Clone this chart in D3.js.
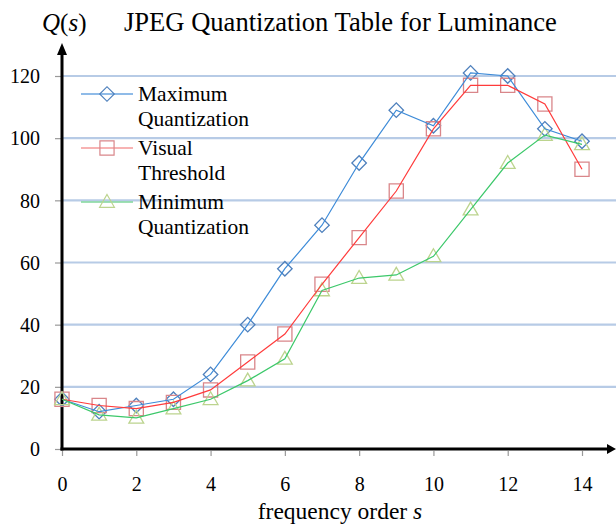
<!DOCTYPE html>
<html>
<head>
<meta charset="utf-8">
<script src="https://cdn.jsdelivr.net/npm/d3@7"></script>
<style>
  body { margin: 0; background: #fff; }
</style>
</head>
<body>
<script>
// data
const freqOrder = [0, 1, 2, 3, 4, 5, 6, 7, 8, 9, 10, 11, 12, 13, 14];
const maxQuant = [16, 12, 14, 16, 24, 40, 58, 72, 92, 109, 104, 121, 120, 103, 99];
const visualThreshold = [16, 14, 13, 15, 19, 28, 37, 53, 68, 83, 103, 117, 117, 111, 90];
const minQuant = [16, 11, 10, 13, 16, 22, 29, 51, 55, 56, 62, 77, 92, 101, 98];
const xTicks = [0, 2, 4, 6, 8, 10, 12, 14];
const yTicks = [0, 20, 40, 60, 80, 100, 120];
const seriesNames = [['Maximum', 'Quantization'], ['Visual', 'Threshold'], ['Minimum', 'Quantization']];

const fontFamily = '"Liberation Serif", Tinos';

const series = [
  { name: seriesNames[0], values: maxQuant, line: '#3d8bd8', legendLine: '#6aa5e0', marker: '#4f81bd', shape: 'diamond' },
  { name: seriesNames[1], values: visualThreshold, line: '#ff3b3b', legendLine: '#f59a9a', marker: '#d9868a', shape: 'square' },
  { name: seriesNames[2], values: minQuant, line: '#3cc86a', legendLine: '#7fd69b', marker: '#bcd48e', shape: 'triangle' }
];

const w = 616, h = 525;
const svg = d3.select('body').append('svg')
  .attr('width', w).attr('height', h)
  .style('font-family', fontFamily);

const x = d3.scaleLinear().domain([0, 14]).range([62, 582]);
const y = d3.scaleLinear().domain([0, 120]).range([449, 76]);

// grid lines
svg.append('g').selectAll('line')
  .data(yTicks.filter(d => d > 0))
  .enter().append('line')
  .attr('x1', x(0)).attr('x2', w)
  .attr('y1', d => y(d)).attr('y2', d => y(d))
  .attr('stroke', '#b7cbe6').attr('stroke-width', 2.2);

// y axis ticks and labels
const yAxis = d3.axisLeft(y).tickValues(yTicks).tickSize(7).tickPadding(15);
const yg = svg.append('g').attr('transform', 'translate(' + x(0) + ',0)').call(yAxis);
yg.attr('font-family', null).attr('font-size', null);
yg.select('.domain').remove();
yg.selectAll('.tick line').attr('stroke', '#999').attr('stroke-width', 1.2);
yg.selectAll('.tick text')
  .style('font-family', fontFamily)
  .style('font-size', '20px')
  .attr('dy', '0.34em');

// x axis ticks and labels
const xAxis = d3.axisBottom(x).tickValues(xTicks).tickSize(7).tickPadding(21);
const xg = svg.append('g').attr('transform', 'translate(0,' + y(0) + ')').call(xAxis);
xg.attr('font-family', null).attr('font-size', null);
xg.select('.domain').remove();
xg.selectAll('.tick line').attr('stroke', '#999').attr('stroke-width', 1.2).attr('y1', 2);
xg.selectAll('.tick text')
  .style('font-family', fontFamily)
  .style('font-size', '20px');

// axis lines with arrow heads
svg.append('line')
  .attr('x1', x(0) - 1.5).attr('x2', 608)
  .attr('y1', y(0)).attr('y2', y(0))
  .attr('stroke', '#000').attr('stroke-width', 3);
svg.append('path')
  .attr('d', d3.line()([[607, y(0) - 5], [616, y(0)], [607, y(0) + 5]]) + 'Z')
  .attr('fill', '#000');
svg.append('line')
  .attr('x1', x(0)).attr('x2', x(0))
  .attr('y1', y(0) + 1.5).attr('y2', 54)
  .attr('stroke', '#000').attr('stroke-width', 3);
svg.append('path')
  .attr('d', d3.line()([[x(0) - 5, 55], [x(0), 43], [x(0) + 5, 55]]) + 'Z')
  .attr('fill', '#000');

// marker shapes
function markerPath(shape) {
  if (shape === 'diamond') return d3.symbol().type(d3.symbolSquare).size(105)();
  if (shape === 'square') return d3.symbol().type(d3.symbolSquare).size(200)();
  return d3.symbol().type(d3.symbolTriangle).size(95)();
}
function markerTransform(shape, px, py) {
  if (shape === 'diamond') return 'translate(' + px + ',' + py + ') rotate(45)';
  if (shape === 'triangle') return 'translate(' + px + ',' + (py + 1) + ')';
  return 'translate(' + px + ',' + py + ')';
}

const line = d3.line()
  .x((d, i) => x(freqOrder[i]))
  .y(d => y(d));

// markers first, lines on top
series.forEach(s => {
  svg.append('g').selectAll('path')
    .data(s.values)
    .enter().append('path')
    .attr('d', markerPath(s.shape))
    .attr('transform', (d, i) => markerTransform(s.shape, x(freqOrder[i]), y(d)))
    .attr('fill', 'none')
    .attr('stroke', s.marker)
    .attr('stroke-width', 1.3);
});
series.forEach(s => {
  svg.append('path')
    .datum(s.values)
    .attr('d', line)
    .attr('fill', 'none')
    .attr('stroke', s.line)
    .attr('stroke-width', 1.2);
});

// legend
const legend = svg.append('g');
const legendRows = [94, 148, 202];
series.forEach((s, i) => {
  const ly = legendRows[i];
  legend.append('line')
    .attr('x1', 81).attr('x2', 133)
    .attr('y1', ly).attr('y2', ly)
    .attr('stroke', s.legendLine).attr('stroke-width', 1.5);
  legend.append('path')
    .attr('d', markerPath(s.shape))
    .attr('transform', markerTransform(s.shape, 107, ly))
    .attr('fill', 'none')
    .attr('stroke', s.marker)
    .attr('stroke-width', 1.2);
  s.name.forEach((t, j) => {
    legend.append('text')
      .attr('x', 138)
      .attr('y', ly + 7 + j * 24.5)
      .style('font-family', fontFamily)
      .style('font-size', '21.5px')
      .text(t);
  });
});

// title and axis titles
const title = svg.append('text')
  .attr('x', 124).attr('y', 31)
  .style('font-family', fontFamily)
  .style('font-size', '25px')
  .text('JPEG Quantization Table for Luminance');
// fit the title to the width it has in the picture
const tl = title.node().getComputedTextLength();
if (tl > 0) title.style('font-size', (25 * 433 / tl) + 'px');

const qLabel = svg.append('text')
  .attr('x', 42).attr('y', 31)
  .style('font-family', fontFamily)
  .style('font-size', '25px');
qLabel.append('tspan').style('font-style', 'italic').text('Q');
qLabel.append('tspan').text('(');
qLabel.append('tspan').style('font-style', 'italic').text('s');
qLabel.append('tspan').text(')');

const xLabel = svg.append('text')
  .attr('x', 340).attr('y', 519)
  .attr('text-anchor', 'middle')
  .style('font-family', fontFamily)
  .style('font-size', '23.5px');
xLabel.append('tspan').text('frequency order ');
xLabel.append('tspan').style('font-style', 'italic').text('s');
</script>
</body>
</html>
